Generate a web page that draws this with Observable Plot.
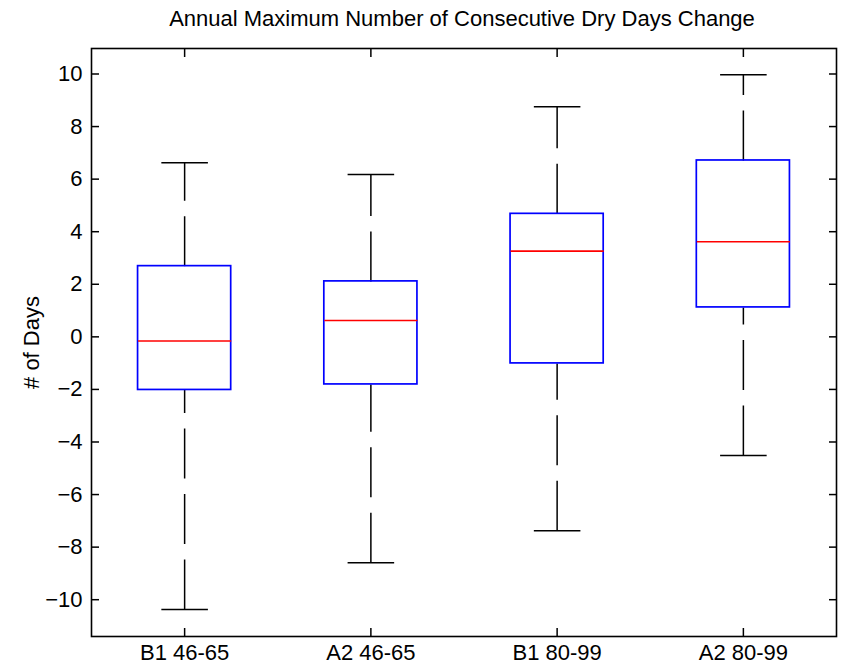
<!DOCTYPE html>
<html><head><meta charset="utf-8">
<script src="https://cdn.jsdelivr.net/npm/d3@7"></script>
<script src="https://cdn.jsdelivr.net/npm/@observablehq/plot@0.6"></script>
<style>body{margin:0;background:#fff;} svg{display:block}</style>
</head><body><div id="chart"></div>
<script>
const title = "Annual Maximum Number of Consecutive Dry Days Change";
const yLabel = "# of Days";
const categories = ["B1 46-65", "A2 46-65", "B1 80-99", "A2 80-99"];
const lowerWhisker = [-10.37, -8.59, -7.38, -4.51];
const q1 = [-2.02, -1.81, -1.01, 1.12];
const median = [-0.16, 0.62, 3.26, 3.62];
const q3 = [2.69, 2.11, 4.68, 6.71];
const upperWhisker = [6.62, 6.18, 8.75, 9.97];
const yTicks = [-10, -8, -6, -4, -2, 0, 2, 4, 6, 8, 10];

const positions = categories.map((c, i) => i + 1);
const boxes = categories.map((c, i) => ({
  pos: i + 1, cat: c, lo: lowerWhisker[i], q1: q1[i], med: median[i], q3: q3[i], hi: upperWhisker[i]
}));
const halfBox = 0.25, halfCap = 0.125;
const font = "'Liberation Sans', Arial, Helvetica, sans-serif";

const plot = Plot.plot({
  width: 846, height: 670,
  marginLeft: 91, marginRight: 10, marginTop: 48, marginBottom: 34,
  style: {fontFamily: font, fontSize: "22px", background: "white", color: "black"},
  x: {type: "linear", domain: [0.5, 4.5], axis: null},
  y: {domain: [-11.4, 10.97], axis: null},
  marks: [
    Plot.link(boxes, {x1: "pos", x2: "pos", y1: "lo", y2: "q1", stroke: "black", strokeWidth: 1.5, strokeDasharray: "50,15.5"}),
    Plot.link(boxes, {x1: "pos", x2: "pos", y1: "q3", y2: "hi", stroke: "black", strokeWidth: 1.5, strokeDasharray: "50,15.5"}),
    Plot.link(boxes, {x1: d => d.pos - halfCap, x2: d => d.pos + halfCap, y1: "lo", y2: "lo", stroke: "black", strokeWidth: 1.5}),
    Plot.link(boxes, {x1: d => d.pos - halfCap, x2: d => d.pos + halfCap, y1: "hi", y2: "hi", stroke: "black", strokeWidth: 1.5}),
    Plot.rect(boxes, {x1: d => d.pos - halfBox, x2: d => d.pos + halfBox, y1: "q1", y2: "q3", fill: "none", stroke: "#0000ff", strokeWidth: 1.7}),
    Plot.link(boxes, {x1: d => d.pos - halfBox, x2: d => d.pos + halfBox, y1: "med", y2: "med", stroke: "#ff0000", strokeWidth: 1.6}),
    Plot.frame({stroke: "black", strokeWidth: 1.6}),
    Plot.axisY(yTicks, {anchor: "left", tickSize: 8, dx: 8, fill: "none", label: null, strokeWidth: 1.5}),
    Plot.axisY(yTicks, {anchor: "right", tickSize: 8, dx: -8, fill: "none", label: null, strokeWidth: 1.5}),
    Plot.axisY(yTicks, {anchor: "left", tickSize: 0, tickPadding: 9, label: null, fontSize: 22}),
    Plot.axisX(positions, {anchor: "bottom", tickSize: 8, dy: -8, fill: "none", label: null, strokeWidth: 1.5}),
    Plot.axisX(positions, {anchor: "top", tickSize: 8, dy: 8, fill: "none", label: null, strokeWidth: 1.5}),
    Plot.axisX(positions, {anchor: "bottom", tickSize: 0, tickPadding: 8, label: null, fontSize: 22, tickFormat: d => categories[d - 1]}),
    Plot.text([yLabel], {frameAnchor: "left", rotate: -90, dx: -60, textAnchor: "middle", fontSize: 22, fill: "black"}),
    Plot.text([title], {frameAnchor: "top", dy: -38, dx: -2, fontSize: 22, fill: "black"})
  ]
});
document.getElementById("chart").appendChild(plot);
</script>
</body></html>
